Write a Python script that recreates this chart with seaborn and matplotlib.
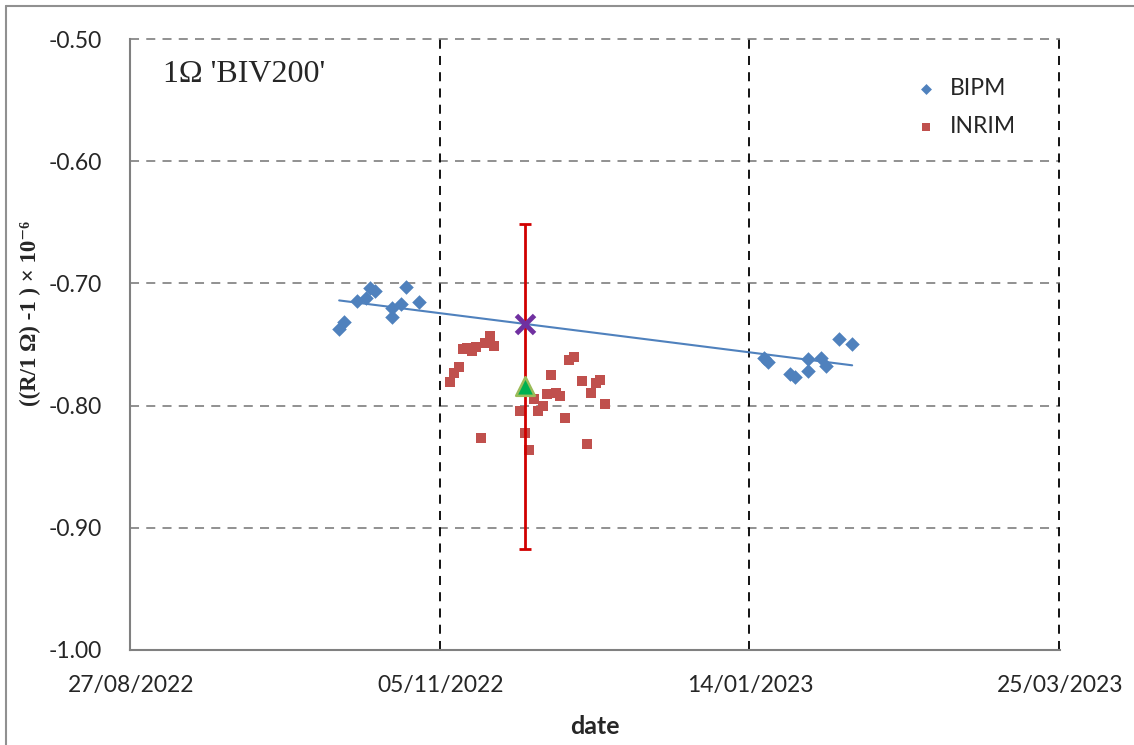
import numpy as np
import pandas as pd
import seaborn as sns
import matplotlib.pyplot as plt
import matplotlib.dates as mdates
from matplotlib.lines import Line2D

# BIPM measurements
bipm_dates = ['2022-10-13', '2022-10-14', '2022-10-17', '2022-10-19', '2022-10-20', '2022-10-21',
              '2022-10-25', '2022-10-25', '2022-10-27', '2022-10-28', '2022-10-31',
              '2023-01-17', '2023-01-18', '2023-01-23', '2023-01-24', '2023-01-27', '2023-01-27',
              '2023-01-30', '2023-01-31', '2023-02-03', '2023-02-06']
bipm_vals = [-0.7373, -0.7316, -0.7144, -0.7118, -0.7038, -0.7062,
             -0.7201, -0.7275, -0.7169, -0.7030, -0.7153,
             -0.7613, -0.7641, -0.7741, -0.7763, -0.7714, -0.7621,
             -0.7613, -0.7674, -0.7455, -0.7498]

# INRIM measurements
inrim_dates = ['2022-11-07', '2022-11-08', '2022-11-09', '2022-11-10', '2022-11-11', '2022-11-12',
               '2022-11-13', '2022-11-14', '2022-11-15', '2022-11-16', '2022-11-17',
               '2022-11-23', '2022-11-24', '2022-11-25', '2022-11-26', '2022-11-27', '2022-11-28',
               '2022-11-29', '2022-11-30', '2022-12-01', '2022-12-02', '2022-12-03', '2022-12-04',
               '2022-12-05', '2022-12-07', '2022-12-08', '2022-12-09', '2022-12-10', '2022-12-11',
               '2022-12-12']
inrim_vals = [-0.7809, -0.7730, -0.7681, -0.7539, -0.7531, -0.7553,
              -0.7518, -0.8265, -0.7485, -0.7430, -0.7512,
              -0.8044, -0.8226, -0.8363, -0.7946, -0.8044, -0.8003,
              -0.7907, -0.7752, -0.7894, -0.7921, -0.8099, -0.7626,
              -0.7602, -0.7798, -0.8316, -0.7894, -0.7817, -0.7790,
              -0.7989]

# reference date, BIPM trend value and INRIM mean with uncertainty
ref_date = '2022-11-24'
bipm_ref = -0.733
inrim_ref = -0.784
inrim_unc = 0.133

sns.set_style("white")
plt.rcParams['font.family'] = ['Lato', 'DejaVu Sans']

df_b = pd.DataFrame({'date': pd.to_datetime(bipm_dates), 'val': bipm_vals})
df_i = pd.DataFrame({'date': pd.to_datetime(inrim_dates), 'val': inrim_vals})
df_b['num'] = mdates.date2num(df_b['date'])
df_i['num'] = mdates.date2num(df_i['date'])
ref_num = mdates.date2num(pd.to_datetime(ref_date))

fig = plt.figure(figsize=(11.34, 7.45), dpi=100)
ax = fig.add_axes([130/1134, 95/745, 930/1134, 611/745])

blue = '#4F81BD'
red = '#C0504D'

sns.regplot(x=df_b['num'], y=df_b['val'], scatter=False, ci=None, truncate=True, ax=ax,
            line_kws=dict(color=blue, lw=1.5, zorder=2))
sns.scatterplot(x='num', y='val', data=df_b, marker='D', s=55, color=blue, linewidth=0,
                ax=ax, label='BIPM', zorder=3)
sns.scatterplot(x='num', y='val', data=df_i, marker='s', s=60, color=red, linewidth=0,
                ax=ax, label='INRIM', zorder=3)

ax.errorbar([ref_num], [inrim_ref], yerr=[inrim_unc], fmt='none', ecolor='#D00000',
            elinewidth=2, capsize=4.5, capthick=2, zorder=4)
ax.scatter([ref_num], [bipm_ref], marker='x', s=170, color='#7030A0', linewidths=3.5, zorder=5)
ax.scatter([ref_num], [inrim_ref], marker='^', s=180, color='#00B050', edgecolors='#9BBB59',
           linewidths=1.8, zorder=5)

start = mdates.date2num(pd.Timestamp('2022-08-27'))
end = mdates.date2num(pd.Timestamp('2023-03-25'))
ax.set_xlim(start - 0.3, end - 0.3)
ax.set_ylim(-1.0, -0.5)

ax.set_xticks([start + 70*k for k in range(4)])
ax.set_xticks([start + 31*k for k in range(1, 7)], minor=True)
ax.xaxis.set_major_formatter(mdates.DateFormatter('%d/%m/%Y'))
ax.set_yticks(np.arange(-1.0, -0.45, 0.1))
ax.yaxis.set_major_formatter(plt.FormatStrFormatter('%.2f'))
ax.tick_params(axis='x', which='major', length=0, pad=18, labelsize=16.5)
ax.tick_params(axis='x', which='minor', direction='in', length=5, width=1, color='#808080')
ax.tick_params(axis='y', length=0, pad=20, labelsize=16.5)

for y in [-0.9, -0.8, -0.7, -0.6, -0.5]:
    ax.axhline(y, color='#888888', lw=1.3, ls=(0, (5, 4)), zorder=1, clip_on=False)
for k in [1, 2, 3]:
    ax.axvline(start - 0.3 + 70*k, color='black', lw=1.3, ls=(0, (5, 4)), zorder=1, clip_on=False)

for s in ['top', 'right']:
    ax.spines[s].set_visible(False)
for s in ['left', 'bottom']:
    ax.spines[s].set_color('#808080')
    ax.spines[s].set_linewidth(1.5)

ax.set_xlabel('date', fontsize=18, fontweight='bold', labelpad=14)
ax.set_ylabel('((R/1 Ω) -1 ) × 10⁻⁶', fontsize=16.5, fontweight='bold',
              family=['Liberation Serif', 'DejaVu Serif'])
ax.yaxis.set_label_coords(-0.096, 0.55)

ax.text(0.036, 0.93, "1Ω 'BIV200'", transform=ax.transAxes, fontsize=23,
        family=['Liberation Serif', 'DejaVu Serif'])

leg = ax.legend(loc='upper right', bbox_to_anchor=(0.975, 0.97), frameon=False, fontsize=16.5,
                labelspacing=0.75, handletextpad=0.05, markerscale=0.75)

fig.add_artist(Line2D([6/1134, 6/1134], [0, 1 - 6/745], color='#909090', lw=1.5))
fig.add_artist(Line2D([6/1134, 1], [1 - 6/745, 1 - 6/745], color='#909090', lw=1.5))

fig.savefig('out.png', dpi=100)
